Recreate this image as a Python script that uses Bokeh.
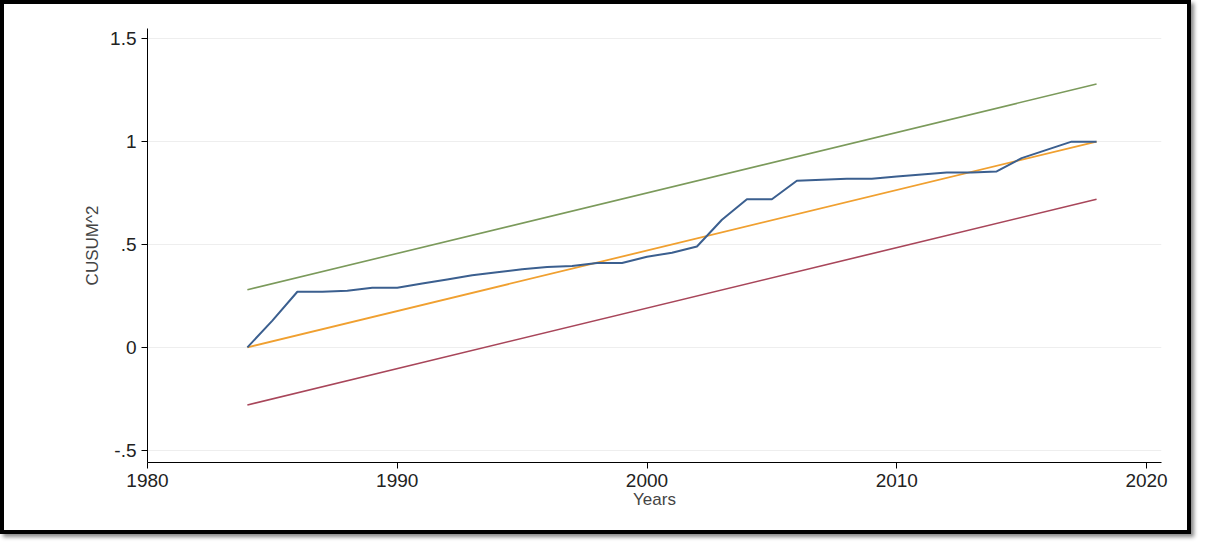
from bokeh.plotting import figure
from bokeh.layouts import column
from bokeh.models import FixedTicker
from bokeh.embed import file_html
from bokeh.resources import INLINE

years = list(range(1984, 2019))
cusum_sq = [0.0, 0.13, 0.27, 0.27, 0.275, 0.29, 0.29, 0.31, 0.33, 0.35, 0.365,
            0.38, 0.39, 0.395, 0.41, 0.41, 0.44, 0.46, 0.49, 0.62, 0.72, 0.72,
            0.81, 0.815, 0.82, 0.82, 0.83, 0.84, 0.85, 0.85, 0.855, 0.92, 0.96,
            1.0, 1.0]
bound_years = [1984, 2018]
expected = [0.0, 1.0]
upper = [0.28, 1.28]
lower = [-0.28, 0.72]
y_ticks = [-0.5, 0, 0.5, 1, 1.5]
y_labels = {-0.5: "-.5", 0: "0", 0.5: ".5", 1: "1", 1.5: "1.5"}

p = figure(width=1183, height=526, output_backend="svg", toolbar_location=None,
           x_range=(1980, 2020.6), y_range=(-0.56, 1.55),
           min_border_left=143, min_border_right=26, min_border_top=24, min_border_bottom=68)
p.outline_line_color = None
p.xgrid.grid_line_color = None
p.ygrid.grid_line_color = "#eeeeee"
p.yaxis.ticker = FixedTicker(ticks=y_ticks)
p.yaxis.major_label_overrides = y_labels
p.yaxis.minor_tick_line_color = None
p.xaxis.ticker = FixedTicker(ticks=[1980, 1990, 2000, 2010, 2020])
p.xaxis.minor_tick_line_color = None
p.xaxis.axis_label = "Years"
p.yaxis.axis_label = "CUSUM^2"
for ax in (p.xaxis, p.yaxis):
    ax.major_label_text_font = "Liberation Sans"
    ax.major_label_text_font_size = "19px"
    ax.major_label_text_color = "#222222"
    ax.axis_label_text_font = "Liberation Sans"
    ax.axis_label_text_font_style = "normal"
    ax.axis_label_text_font_size = "17px"
    ax.major_tick_out = 6
    ax.major_tick_in = 0
p.yaxis.major_label_orientation = "horizontal"
p.xaxis.axis_label_standoff = 0

p.line(bound_years, upper, line_color="#7b9a5b", line_width=1.6)
p.line(bound_years, lower, line_color="#a8465a", line_width=1.6)
p.line(bound_years, expected, line_color="#f0a030", line_width=1.8)
p.line(years, cusum_sq, line_color="#3b5f8f", line_width=2)

layout = column(p, styles={"border": "4px solid black", "box-shadow": "3px 3px 4px #888"})
open("out.html", "w").write(file_html(layout, INLINE))
